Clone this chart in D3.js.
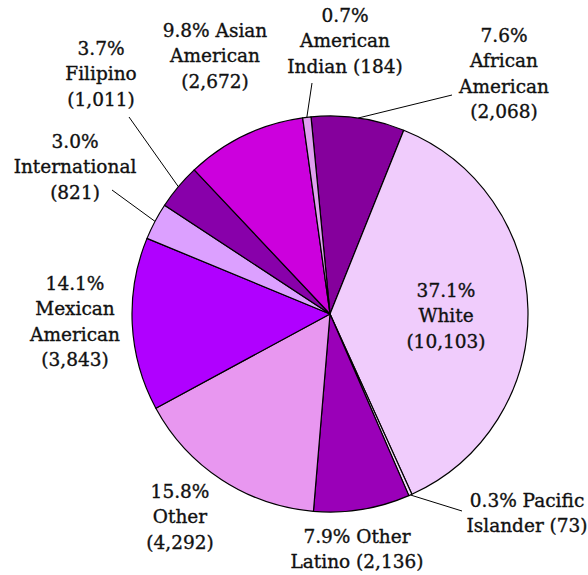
<!DOCTYPE html>
<html>
<head>
<meta charset="utf-8">
<script src="https://cdn.jsdelivr.net/npm/d3@7"></script>
<style>
  body { margin: 0; background: #fff; }
</style>
</head>
<body>
<div id="vis"></div>
<script>
// slices in drawing order, clockwise from the top
const groups = ["African American", "White", "Pacific Islander", "Other Latino", "Other",
  "Mexican American", "International", "Filipino", "Asian American", "American Indian"];
const counts = [2068, 10103, 73, 2136, 4292, 3843, 821, 1011, 2672, 184];
const percents = ["7.6%", "37.1%", "0.3%", "7.9%", "15.8%", "14.1%", "3.0%", "3.7%", "9.8%", "0.7%"];
const colors = ["#85009c", "#f0ccfc", "#f4dcfc", "#9a00b8", "#e897f0", "#b000ff", "#dca0ff",
  "#8800aa", "#cc00dd", "#e0a0f0"];

// label lines as they are broken in the picture
const labelLines = [
  ["7.6%", "African", "American", "(2,068)"],
  ["37.1%", "White", "(10,103)"],
  ["0.3% Pacific", "Islander (73)"],
  ["7.9% Other", "Latino (2,136)"],
  ["15.8%", "Other", "(4,292)"],
  ["14.1%", "Mexican", "American", "(3,843)"],
  ["3.0%", "International", "(821)"],
  ["3.7%", "Filipino", "(1,011)"],
  ["9.8% Asian", "American", "(2,672)"],
  ["0.7%", "American", "Indian (184)"]
];
// label anchor (center x, first baseline) and leader line end, in px
const labelPos = [[504, 42], [446, 297], [527, 507], [357, 543], [180, 498],
  [75, 290], [75, 148], [101, 55], [215, 37], [345, 22]];
const leaders = [[452, 95], null, [462, 511], null, null, null, [112, 190], [129, 117], null, [312, 83]];

const width = 588, height = 575;
const cx = 330, cy = 314, r = 198;
const lineH = 25.3;

const svg = d3.select("#vis").append("svg")
  .attr("width", width)
  .attr("height", height);

const g = svg.append("g")
  .attr("transform", "translate(" + cx + "," + cy + ")");

const startA = -5.5 * Math.PI / 180;
const pie = d3.pie().sort(null)
  .startAngle(startA)
  .endAngle(startA + 2 * Math.PI);
const arcs = pie(counts);
const arc = d3.arc().innerRadius(0).outerRadius(r);

g.selectAll("path")
  .data(arcs)
  .join("path")
  .attr("d", arc)
  .attr("fill", (d, i) => colors[i])
  .attr("stroke", "#000")
  .attr("stroke-width", 1.2)
  .attr("stroke-linejoin", "round");

// leader lines from slice edge to label
const edge = d3.arc().innerRadius(r).outerRadius(r);
arcs.forEach((d, i) => {
  if (!leaders[i]) return;
  const p = edge.centroid(d);
  svg.append("line")
    .attr("x1", cx + p[0]).attr("y1", cy + p[1])
    .attr("x2", leaders[i][0]).attr("y2", leaders[i][1])
    .attr("stroke", "#000")
    .attr("stroke-width", 1);
});

// labels
labelLines.forEach((lines, i) => {
  const t = svg.append("text")
    .attr("text-anchor", "middle")
    .attr("font-family", "'DejaVu Serif', serif")
    .attr("font-size", "18.5px")
    .attr("fill", "#111")
    .attr("stroke", "#111")
    .attr("stroke-width", 0.35);
  lines.forEach((s, j) => {
    t.append("tspan")
      .attr("x", labelPos[i][0])
      .attr("y", labelPos[i][1] + j * lineH)
      .text(s);
  });
});
</script>
</body>
</html>
